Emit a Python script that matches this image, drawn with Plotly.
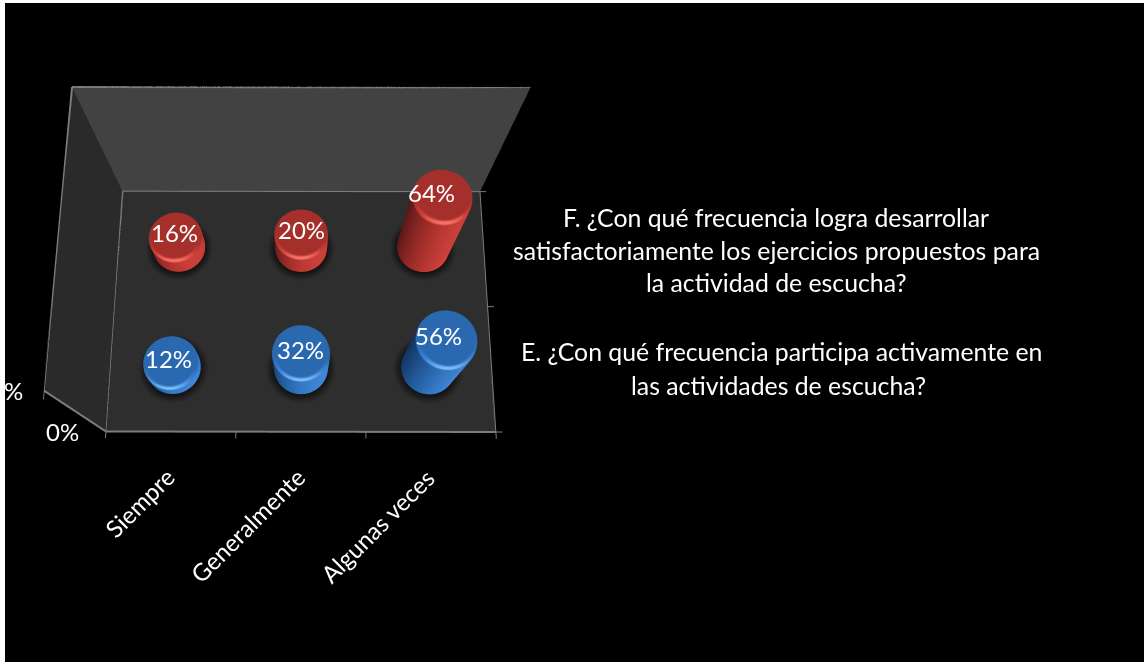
import numpy as np
import plotly.graph_objects as go

# Survey results per frequency category (percent of answers)
categories = ["Siempre", "Generalmente", "Algunas veces"]
series_e = [12, 32, 56]
series_f = [16, 20, 64]
question_f = ["F. ¿Con qué frecuencia logra desarrollar",
              "satisfactoriamente los ejercicios propuestos para",
              "la actividad de escucha?"]
question_e = ["E. ¿Con qué frecuencia participa activamente en",
              "las actividades de escucha?"]

W, H = 1144, 662
ASPECT = dict(x=1.0, y=0.675, z=0.512)
FLOOR = "#2e2e2e"
FONT = "Lato"
AX_LINE = "#7c7c7c"

# Cylinder footprint in data units of the x and y axes, chosen so it stays round
RX = 0.213
RY = RX * (ASPECT["x"] / 3) / (ASPECT["y"] / 2)

# Horizontal nudge of the value labels inside each category column
NUDGE_E = [-2, 0, -9]
NUDGE_F = [0, 0, -12]


def cylinder(cx, cy, top, scale):
    """Surface of revolution painted by tone: side wall, small bevel, flat cap."""
    theta = np.linspace(0, 2 * np.pi, 120)
    bevel = 3.0
    prof_r = np.array([0.0, 1.0, 1.0, 1.0, 0.985, 0.94, 0.86, 0.4, 0.0])
    prof_z = np.array([0.0, 0.0, 0.5, max(top - bevel, 0.6), top - bevel * 0.5,
                       top - bevel * 0.15, top, top, top])
    x = cx + RX * np.outer(prof_r, np.cos(theta))
    y = cy + RY * np.outer(prof_r, np.sin(theta))
    z = np.outer(prof_z, np.ones_like(theta))

    # Side wall runs from dark on the left to bright at the front right
    side = 0.7 * (0.5 + 0.5 * np.cos(theta + np.radians(40)))
    cap = np.full_like(theta, 0.45)
    rim = 0.45 + 0.55 * np.clip(-np.sin(theta), 0, 1) ** 2
    tone = np.vstack([side, side, side, side, rim, rim, cap, cap, cap])
    return go.Surface(
        x=x, y=y, z=z, surfacecolor=tone, cmin=0, cmax=1, colorscale=scale,
        showscale=False, hoverinfo="skip",
        lighting=dict(ambient=1, diffuse=0, specular=0, roughness=1, fresnel=0),
        contours=dict(x=dict(highlight=False), y=dict(highlight=False), z=dict(highlight=False)),
    )


def contact_shadow(cx, cy):
    """Soft dark halo on the floor around a cylinder base."""
    theta = np.linspace(0, 2 * np.pi, 72)
    radial = np.linspace(0, 1.3, 14)
    x = cx + RX * np.outer(radial, np.cos(theta))
    y = cy + RY * np.outer(radial, np.sin(theta)) - 0.01
    z = np.full_like(x, 0.15)
    tone = np.outer(radial, np.ones_like(theta))
    return go.Surface(
        x=x, y=y, z=z, surfacecolor=tone, cmin=0.9, cmax=1.3,
        colorscale=[[0, "#0c0c0c"], [1, FLOOR]], showscale=False, hoverinfo="skip",
        lighting=dict(ambient=1, diffuse=0, specular=0, roughness=1, fresnel=0),
    )


RED = [[0, "#4d1614"], [0.45, "#a52f2b"], [0.7, "#cc403a"], [1, "#f27268"]]
BLUE = [[0, "#10305a"], [0.45, "#2a69b0"], [0.7, "#3f86d6"], [1, "#7cbcf5"]]

fig = go.Figure()
annotations3d = []
for row, (values, scale, nudge) in enumerate([(series_e, BLUE, NUDGE_E), (series_f, RED, NUDGE_F)]):
    for col, value in enumerate(values):
        fig.add_trace(contact_shadow(col, row))
        fig.add_trace(cylinder(col, row, value, scale))
        annotations3d.append(dict(
            x=col, y=row, z=value, text=f"{value}%", showarrow=False,
            xshift=nudge[col], yshift=3,
            font=dict(family=FONT, size=24, color="white"), xanchor="center", yanchor="middle",
        ))

# Heavier outlines on the axis edges and on the 0 and 100 gridlines
edges = [
    ([-0.5, 2.5], [-0.5, -0.5], [0, 0]),
    ([2.5, 2.5], [-0.5, 1.5], [0, 0]),
    ([-0.5, 2.5], [1.5, 1.5], [0, 0]),
    ([-0.5, -0.5], [-0.5, 1.5], [0, 0]),
    ([-0.5, 2.5], [1.5, 1.5], [100, 100]),
    ([-0.5, -0.5], [-0.5, 1.5], [100, 100]),
    ([-0.5, -0.5], [-0.5, -0.5], [0, 100]),
]
for ex, ey, ez in edges:
    fig.add_trace(go.Scatter3d(x=ex, y=ey, z=ez, mode="lines", hoverinfo="skip",
                               line=dict(color=AX_LINE, width=4)))

for col, name in enumerate(categories):
    annotations3d.append(dict(
        x=col, y=-0.5, z=0, text=name, showarrow=False, textangle=-45,
        xanchor="right", yanchor="top", xshift=12, yshift=-28,
        font=dict(family=FONT, size=24, color="white"),
    ))
annotations3d.append(dict(x=-0.5, y=-0.5, z=0, text="0%", showarrow=False, xshift=-43, yshift=0,
                          font=dict(family=FONT, size=24, color="white")))
annotations3d.append(dict(x=-0.5, y=-0.5, z=100, text="%", showarrow=False, xshift=-31, yshift=0,
                          font=dict(family=FONT, size=24, color="white")))

base_axis = dict(showticklabels=False, title="", showspikes=False, zeroline=False,
                 showline=True, linecolor=AX_LINE, linewidth=2,
                 ticks="outside", tickcolor=AX_LINE, tickwidth=2, ticklen=6,
                 showbackground=True)

page_annotations = []
for i, line in enumerate(question_f):
    page_annotations.append(dict(x=776 / W, y=1 - (217 + 33 * i) / H, text=line))
for i, (line, cx) in enumerate(zip(question_e, [781, 778])):
    page_annotations.append(dict(x=cx / W, y=1 - (351 + 34 * i) / H, text=line))
for a in page_annotations:
    a.update(xref="paper", yref="paper", showarrow=False, xanchor="center", yanchor="middle",
             font=dict(family=FONT, size=24.8, color="white"))

fig.update_layout(
    width=W, height=H, margin=dict(l=0, r=0, t=0, b=0), showlegend=False,
    paper_bgcolor="white",
    shapes=[dict(type="rect", xref="paper", yref="paper", x0=5 / W, x1=1, y0=0, y1=1 - 3 / H,
                 fillcolor="black", line_width=0, layer="below")],
    annotations=page_annotations,
    scene=dict(
        domain=dict(x=[0, 602 / W], y=[0, 1]),
        bgcolor="rgba(0,0,0,0)",
        aspectmode="manual", aspectratio=ASPECT,
        camera=dict(eye=dict(x=0.0008, y=-0.654, z=1.785),
                    center=dict(x=0, y=-0.0676, z=-0.26),
                    up=dict(x=0, y=0, z=1),
                    projection=dict(type="perspective")),
        xaxis=dict(base_axis, range=[-0.5, 2.5], tickvals=[-0.5, 0.5, 1.5, 2.5], showgrid=False,
                   backgroundcolor="#2a2a2a"),
        yaxis=dict(base_axis, range=[-0.5, 1.5], tickvals=[-0.5, 0.5, 1.5], showgrid=False,
                   backgroundcolor="#424242"),
        zaxis=dict(base_axis, range=[0, 100], tickvals=[0, 100], showgrid=True,
                   gridcolor=AX_LINE, gridwidth=2, backgroundcolor=FLOOR),
        annotations=annotations3d,
    ),
)

fig.write_html("out.html")
